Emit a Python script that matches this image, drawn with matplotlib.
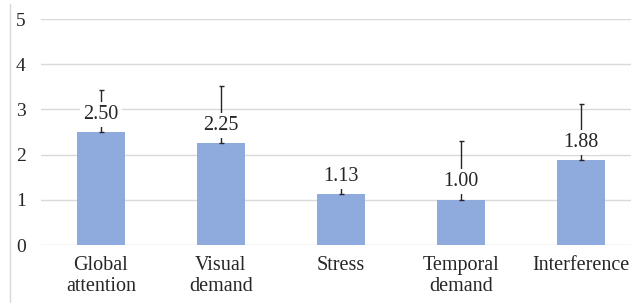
import matplotlib
matplotlib.use("Agg")
from matplotlib import pyplot as plt
from matplotlib.lines import Line2D
import numpy as np

categories = ["Global\nattention", "Visual\ndemand", "Stress", "Temporal\ndemand", "Interference"]
means = [2.50, 2.25, 1.13, 1.00, 1.88]
sd_upper = [0.93, 1.27, 0.30, 1.30, 1.24]

plt.rcParams['font.family'] = ['Liberation Serif', 'DejaVu Serif']

fig = plt.figure(figsize=(6.31, 3.03), dpi=100)
ax = fig.add_axes([41 / 631, (303 - 245) / 303, 1 - 41 / 631, (245 - 19) / 303])

x = np.arange(len(categories))
ax.bar(x, means, width=0.4, color="#8FAADC", zorder=2)
ax.errorbar(x, means, yerr=[np.zeros(len(means)), sd_upper], fmt="none",
            ecolor="#262626", elinewidth=1.0, capsize=1.8, capthick=1.0, zorder=3)

# value labels with white box (hides the error bar behind them)
for xi, m in zip(x, means):
    ax.annotate(f"{m:.2f}", (xi, m), xytext=(0, 6), textcoords="offset points",
                ha="center", va="bottom", fontsize=14.5, color="#262626", zorder=4,
                bbox=dict(boxstyle="square,pad=0.15", fc="white", ec="none"))

ax.set_ylim(0, 5)
ax.set_xlim(-0.5, 4.42)
ax.set_yticks(range(6))
ax.set_xticks(x)
ax.set_xticklabels(categories, fontsize=14.5, color="#262626", linespacing=1.1)
ax.tick_params(axis="y", labelsize=14, colors="#262626", length=0, pad=11)
ax.tick_params(axis="x", length=0, pad=8)
ax.yaxis.grid(True, color="#D9D9D9", linewidth=1.0, zorder=0)
ax.set_axisbelow(True)
for s in ax.spines.values():
    s.set_visible(False)

# faint chart-area border on the left
fig.add_artist(Line2D([10 / 631, 10 / 631], [0, 1 - 4 / 303], transform=fig.transFigure,
                      color="#D9D9D9", linewidth=1.0))

fig.savefig("out.png", dpi=100)
